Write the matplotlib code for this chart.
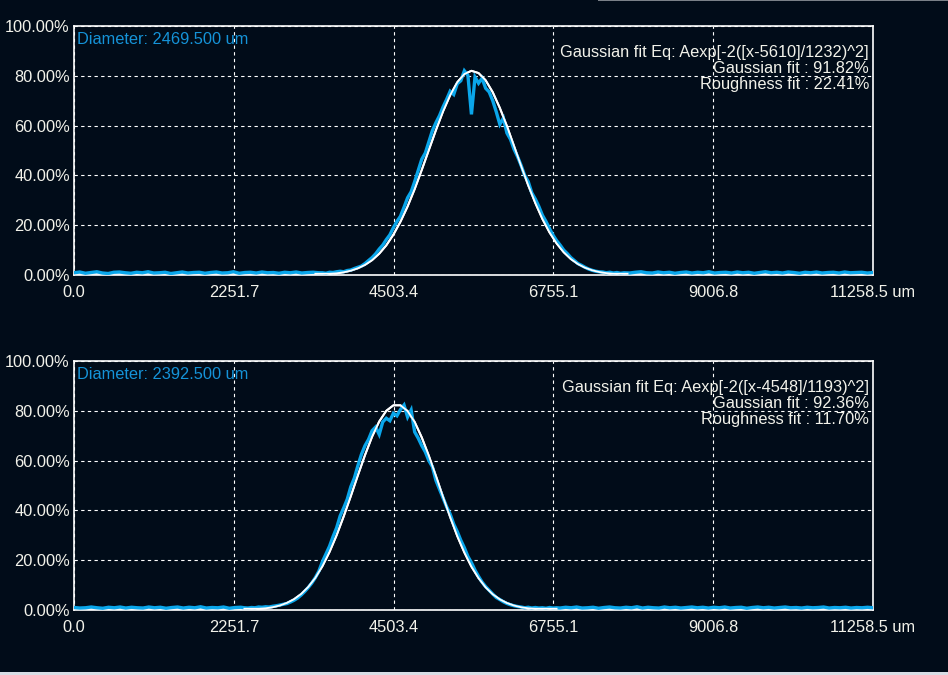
import numpy as np
import matplotlib
matplotlib.use("Agg")
import matplotlib.pyplot as plt
from matplotlib.patches import Rectangle

# ---- dados -----------------------------------------------------------------
x_max = 11258.5
x_ticks = [0.0, 2251.7, 4503.4, 6755.1, 9006.8, 11258.5]
x_tick_labels = ["0.0", "2251.7", "4503.4", "6755.1", "9006.8", "11258.5 um"]
y_ticks = [0, 20, 40, 60, 80, 100]
y_tick_labels = ["0.00%", "20.00%", "40.00%", "60.00%", "80.00%", "100.00%"]

# painel 1: perfil medido (%)
p1_base_left = [0.9, 1.2, 0.7, 1.0, 1.3, 0.8, 0.6, 1.1, 1.2, 0.9, 0.7, 1.1,
                0.9, 1.3, 0.8, 0.9, 1.1, 0.6, 0.9, 1.2, 0.8, 1.0, 1.1, 0.7,
                1.0, 1.2, 0.8, 0.9, 1.3, 0.7, 1.0, 1.1, 0.8, 1.2, 0.9, 1.0,
                0.7, 1.1, 0.9, 1.2, 0.8, 1.0, 1.1, 0.9]
p1_peak_start = 3500
p1_peak = [0.9, 0.7, 1.1, 1.0, 1.3, 1.5, 1.3, 1.8, 2.0, 2.6, 3.1, 3.6, 4.6, 5.8,
           7.0, 8.5, 10.4, 12.0, 14.2, 16.1, 19.0, 21.5, 23.6, 27.2, 31.0, 33.4,
           37.5, 42.0, 46.5, 49.0, 53.5, 58.0, 61.2, 64.0, 67.5, 70.5, 73.8, 72.5,
           76.8, 78.0, 82.0, 80.2, 64.5, 79.5, 77.0, 79.0, 75.0, 73.5, 70.0, 65.5,
           60.5, 63.0, 57.0, 54.5, 50.5, 47.5, 44.0, 40.0, 37.5, 33.0, 30.5, 27.5,
           24.0, 21.5, 18.6, 16.0, 13.8, 12.0, 10.0, 8.6, 7.0, 5.8, 4.6, 3.9, 3.1,
           2.4, 1.9, 1.5, 1.3, 1.2, 0.9, 1.1, 0.8, 1.0, 0.7]
p1_base_right = [0.9, 0.8, 1.1, 1.3, 0.9, 0.8, 1.2, 0.9, 1.1, 0.7, 1.0, 1.2,
                 0.8, 1.1, 0.9, 1.3, 0.8, 1.0, 1.1, 0.8, 1.2, 0.9, 1.1, 0.7,
                 1.0, 1.3, 0.9, 1.1, 0.8, 1.2, 1.0, 0.7, 1.1, 0.9, 1.2, 0.8,
                 1.0, 1.1, 0.8, 1.2, 0.9, 1.0, 1.1, 0.8, 1.0]
# painel 1: ajuste gaussiano (%), passo de 100 um a partir de 3400
p1_fit_start = 3400
p1_fit = [0.13, 0.23, 0.40, 0.67, 1.09, 1.74, 2.70, 4.07, 5.97, 8.55, 11.9, 16.2,
          21.4, 27.5, 34.5, 42.2, 50.2, 58.2, 65.7, 72.2, 77.4, 80.7, 82.0, 81.1,
          78.2, 73.4, 67.1, 59.8, 51.8, 43.8, 36.0, 28.9, 22.5, 17.1, 12.7, 9.15,
          6.43, 4.40, 2.93, 1.90, 1.20, 0.74, 0.44, 0.26, 0.15]

# painel 2
p2_base_left = [1.0, 0.8, 0.9, 1.2, 0.9, 0.7, 1.1, 0.9, 1.2, 0.8, 1.1, 0.9,
                0.8, 1.2, 0.9, 1.1, 0.7, 1.0, 1.2, 0.8, 1.1, 0.9, 1.3, 0.8,
                1.0, 0.9, 1.2, 0.7, 1.0, 1.1]
p2_peak_start = 2400
p2_peak = [0.9, 0.8, 1.0, 0.9, 1.2, 1.1, 1.3, 1.2, 1.5, 1.7, 2.0, 2.3, 2.6, 3.2,
           3.9, 4.8, 6.0, 7.4, 9.0, 10.8, 13.0, 15.6, 19.4, 22.5, 25.6, 29.5, 33.0,
           37.8, 41.0, 44.5, 49.5, 53.0, 58.0, 62.5, 66.0, 68.5, 72.0, 73.5, 70.5,
           75.5, 77.0, 76.0, 79.0, 78.0, 80.5, 82.3, 77.5, 80.3, 71.5, 69.0, 66.0,
           63.5, 60.0, 57.5, 52.0, 48.5, 45.0, 41.5, 38.5, 34.5, 31.5, 28.0, 25.0,
           21.5, 19.0, 16.0, 13.5, 11.2, 9.4, 7.9, 6.4, 5.0, 4.2, 3.3, 2.6, 2.1,
           1.7, 1.4, 1.2, 0.9, 1.1, 0.8, 1.0, 0.8, 0.9, 0.7, 1.0, 0.8, 0.9]
p2_base_right = [0.8, 1.1, 0.9, 1.2, 0.8, 0.9, 1.1, 0.7, 1.0, 1.2, 0.9, 0.8,
                 1.1, 0.9, 1.3, 0.8, 1.1, 0.9, 0.8, 1.2, 0.9, 1.1, 0.8, 1.0,
                 1.2, 0.9, 1.1, 0.8, 1.1, 0.9, 1.2, 0.8, 1.0, 1.1, 0.7, 1.0,
                 1.2, 0.9, 1.1, 0.8, 1.0, 1.2, 0.9, 1.0, 0.8, 1.1, 0.9, 1.0,
                 1.2, 0.8, 1.0, 0.9, 1.1, 0.8, 1.0, 0.9, 1.1, 0.9]
p2_fit_start = 2400
p2_fit = [0.13, 0.23, 0.40, 0.68, 1.13, 1.81, 2.85, 4.33, 6.42, 9.25, 12.9, 17.6,
          23.3, 30.0, 37.6, 45.7, 54.1, 62.2, 69.6, 75.7, 80.0, 82.2, 82.2, 79.9,
          75.5, 69.3, 61.9, 53.8, 45.4, 37.3, 29.7, 23.1, 17.4, 12.8, 9.1, 6.32,
          4.27, 2.80, 1.78, 1.10, 0.67, 0.39, 0.22, 0.12, 0.07]
fit_floor = 0.5

diam_labels = ["Diameter: 2469.500 um", "Diameter: 2392.500 um"]
fit_eqs = ["Gaussian fit Eq: Aexp[-2([x-5610]/1232)^2]",
           "Gaussian fit Eq: Aexp[-2([x-4548]/1193)^2]"]
gauss_fits = ["Gaussian fit : 91.82%", "Gaussian fit : 92.36%"]
rough_fits = ["Roughness fit : 22.41%", "Roughness fit : 11.70%"]

# ---- estilo ----------------------------------------------------------------
BG = "#010c19"
FG = "#f2f2ea"
BLUE = "#0aa6ea"
BLUE_TXT = "#1593d8"
plt.rcParams["font.family"] = ["Liberation Sans", "DejaVu Sans"]
FS = 11.75


def profile_xy(base_left, start, peak, base_right, step=50):
    xp = start + step * np.arange(len(peak))
    xl = np.linspace(0, start - step, len(base_left))
    xr = np.linspace(xp[-1] + step, x_max, len(base_right))
    return (np.concatenate([xl, xp, xr]),
            np.concatenate([base_left, peak, base_right]))


def fit_xy(start, vals, step=100):
    xf = start + step * np.arange(len(vals))
    x = np.concatenate([[0.0], xf, [x_max]])
    y = np.concatenate([[fit_floor], np.maximum(vals, fit_floor), [fit_floor]])
    return x, y


panels = [
    (profile_xy(p1_base_left, p1_peak_start, p1_peak, p1_base_right),
     fit_xy(p1_fit_start, p1_fit)),
    (profile_xy(p2_base_left, p2_peak_start, p2_peak, p2_base_right),
     fit_xy(p2_fit_start, p2_fit)),
]

fig = plt.figure(figsize=(9.48, 6.75), dpi=100, facecolor=BG)
ax_boxes = [[0.0781, 0.5926, 0.8428, 0.3689], [0.0781, 0.0963, 0.8428, 0.3689]]

for i, ((px, py), (fx, fy)) in enumerate(panels):
    ax = fig.add_axes(ax_boxes[i])
    ax.set_facecolor(BG)
    ax.plot(fx, fy, color="white", lw=1.5, zorder=3)
    ax.plot(px, py, color=BLUE, lw=2.4, zorder=4, solid_joinstyle="miter")
    ax.plot(fx[1:-1], fy[1:-1], color="white", lw=1.3, zorder=5)

    ax.set_xlim(0, x_max)
    ax.set_ylim(0, 100)
    ax.set_xticks(x_ticks)
    ax.set_xticklabels(x_tick_labels)
    ax.set_yticks(y_ticks)
    ax.set_yticklabels(y_tick_labels)
    ax.tick_params(axis="x", length=0, pad=7, labelsize=FS, colors=FG)
    ax.tick_params(axis="y", length=0, pad=3, labelsize=FS, colors=FG)
    ax.grid(True, color="white", lw=0.8, ls=(0, (3, 3)))
    ax.set_axisbelow(True)
    for s in ax.spines.values():
        s.set_color("white")
        s.set_linewidth(1.2)
        s.set_zorder(2)

    ax.text(0.004, 0.9277, diam_labels[i], color=BLUE_TXT, fontsize=FS,
            transform=ax.transAxes, ha="left", va="baseline", zorder=6)
    for txt, yy in zip([fit_eqs[i], gauss_fits[i], rough_fits[i]],
                       [0.8755, 0.8124, 0.747]):
        ax.text(0.995, yy, txt, color=FG, fontsize=FS, transform=ax.transAxes,
                ha="right", va="baseline", zorder=6)

# faixa clara no rodape e abas no topo da janela
fig.patches.append(Rectangle((0, 0), 1, 3 / 675, transform=fig.transFigure,
                             facecolor="#d8dde5", edgecolor="none"))
fig.patches.append(Rectangle((598 / 948, 1 - 1 / 675), 350 / 948, 1 / 675,
                             transform=fig.transFigure, facecolor="#7a8088",
                             edgecolor="none"))

fig.savefig("out.png", dpi=100, facecolor=BG)
